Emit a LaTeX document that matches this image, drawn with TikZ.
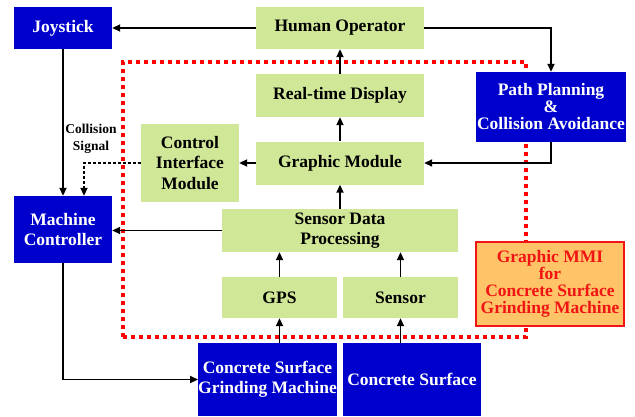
\documentclass[tikz,border=0pt]{standalone}
\usepackage{fontspec}
\setmainfont{Liberation Serif}
\usetikzlibrary{arrows.meta, positioning, calc}
\definecolor{boxblue}{RGB}{0,0,204}
\definecolor{boxgreen}{RGB}{209,231,152}
\definecolor{mmiorange}{RGB}{255,196,104}
\definecolor{mmired}{RGB}{240,20,20}
\tikzset{
  blueblk/.style={rectangle, fill=boxblue, text=white, align=center, inner sep=0pt,
                  font=\fontsize{17.5}{20}\selectfont\bfseries},
  greenblk/.style={rectangle, fill=boxgreen, text=black, align=center, inner sep=0pt,
                   font=\fontsize{17.5}{20.5}\selectfont\bfseries},
  mmibox/.style={rectangle, draw=mmired, fill=mmiorange, text=mmired, line width=1.5pt,
                 align=center, inner sep=0pt, font=\fontsize{17.5}{17}\selectfont\bfseries},
  arrow/.style={-{Stealth[length=8pt, width=7pt, inset=0pt]}, draw=black, line width=1.9pt},
  sigarrow/.style={arrow, dash pattern=on 2.5pt off 2.5pt},
  mmiframe/.style={draw=red, line width=3.6pt, dash pattern=on 4pt off 4pt},
  label/.style={font=\fontsize{13.5}{17}\selectfont\bfseries, align=center, inner sep=0pt},
}

\begin{document}
\begin{tikzpicture}[x=1pt, y=1pt]
  \useasboundingbox (0,0) rectangle (635,416);

  % dotted frame of the MMI
  \draw[mmiframe] (123,79) rectangle (526,354);

  \node[blueblk, minimum width=98pt, minimum height=42pt] (joystick) at (63,388) {Joystick};
  \node[greenblk, minimum width=168pt, minimum height=42pt] (operator) at (340,388) {Human Operator};
  \node[greenblk, minimum width=168pt, minimum height=43pt] (display) at (340,320.5) {Real-time Display};
  \node[greenblk, minimum width=168pt, minimum height=43pt] (graphic) at (340,253) {Graphic Module};
  \node[greenblk, minimum width=98pt, minimum height=78pt] (ctrl) at (190,253)
    {Control\\Interface\\Module};
  \node[blueblk, minimum width=150pt, minimum height=70pt,
        font=\fontsize{17.5}{17}\selectfont\bfseries] (planning) at (551,309)
    {Path Planning\\\&\\Collision Avoidance};
  \node[blueblk, minimum width=98pt, minimum height=67pt] (controller) at (63,186.5)
    {Machine\\Controller};
  \node[greenblk, minimum width=236pt, minimum height=43pt] (sdp) at (340,185.5)
    {Sensor Data\\Processing};
  \node[greenblk, minimum width=115pt, minimum height=41pt] (gps) at (279.5,118.5) {GPS};
  \node[greenblk, minimum width=115pt, minimum height=41pt] (sensor) at (400.5,118.5) {Sensor};
  \node[blueblk, minimum width=137pt, minimum height=73pt] (grinder) at (267.5,36.5)
    {Concrete Surface\\Grinding Machine};
  \node[blueblk, minimum width=138pt, minimum height=73pt] (surface) at (412,36.5)
    {Concrete Surface};
  \node[mmibox, minimum width=148pt, minimum height=84pt] (mmi) at (550,132)
    {Graphic MMI\\for\\Concrete Surface\\Grinding Machine};

  \node[label] (sig) at (91,277) {Collision\\Signal};

  \draw[arrow] (operator.west) -- (joystick.east);
  \draw[arrow] (operator.east) -| (planning.north);
  \draw[arrow] (display.north) -- (operator.south);
  \draw[arrow] (graphic.north) -- (display.south);
  \draw[arrow] (sdp.north) -- (graphic.south);
  \draw[arrow] (planning.south) |- (graphic.east);
  \draw[arrow] (graphic.west) -- (ctrl.east);
  \draw[sigarrow] (ctrl.west) -| ([xshift=21pt]controller.north);
  \draw[arrow] (joystick.south) -- (controller.north);
  \draw[arrow] (sdp.west) -- (sdp.west -| controller.east);
  \draw[arrow] (gps.north) -- (gps.north |- sdp.south);
  \draw[arrow] (sensor.north) -- (sensor.north |- sdp.south);
  \draw[arrow] (gps.south |- grinder.north) -- (gps.south);
  \draw[arrow] (sensor.south |- surface.north) -- (sensor.south);
  \draw[arrow] (controller.south) |- (grinder.west);
\end{tikzpicture}
\end{document}
